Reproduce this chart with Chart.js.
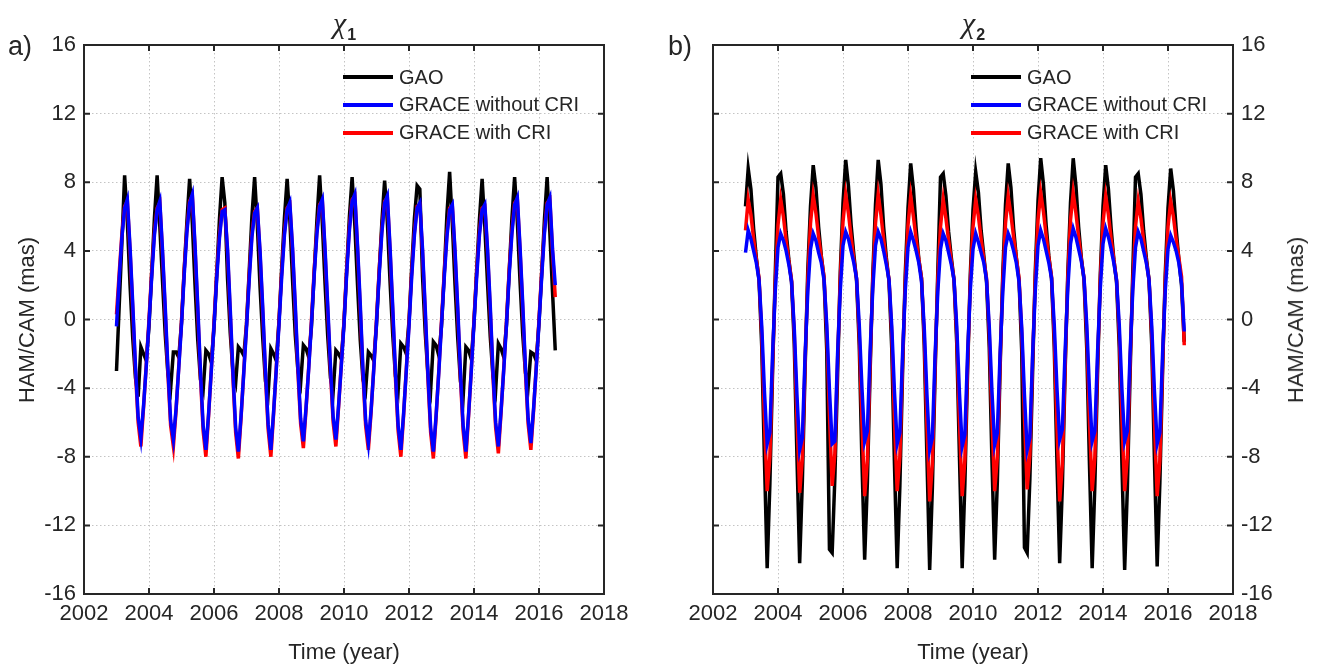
<!DOCTYPE html>
<html>
<head>
<meta charset="utf-8">
<script src="https://cdn.jsdelivr.net/npm/chart.js@4.4.1/dist/chart.umd.min.js"></script>
<style>
  body { margin: 0; width: 1320px; height: 668px; background: #fff; position: relative; overflow: hidden;
         font-family: "Liberation Sans", Arial, sans-serif; color: #262626; }
  canvas { position: absolute; top: 0; }
  .txt { position: absolute; white-space: nowrap; line-height: 1; }
  .panel { font-size: 27px; top: 33px; }
  .title { top: 8px; transform: translateX(-50%); }
  .title i { font-family: "Liberation Serif", "DejaVu Serif", serif; font-size: 30px; }
  .title b { font-size: 16px; position: relative; top: 7px; left: 1px; }
  .xlab { font-size: 22px; top: 641px; transform: translateX(-50%); }
  .ylab { font-size: 22px; transform: translate(-50%, -50%) rotate(-90deg); }
  .leg { position: absolute; height: 24px; display: flex; align-items: center; font-size: 20px; }
  .leg span { display: inline-block; width: 50px; height: 4px; margin-right: 6px; }
</style>
</head>
<body>
<canvas id="chi1" width="660" height="668" style="left:0"></canvas>
<canvas id="chi2" width="660" height="668" style="left:660px"></canvas>

<div class="txt panel" style="left:8px">a)</div>
<div class="txt panel" style="left:668px">b)</div>
<div class="txt title" style="left:344px"><i>χ</i><b>1</b></div>
<div class="txt title" style="left:973px"><i>χ</i><b>2</b></div>
<div class="txt xlab" style="left:344px">Time (year)</div>
<div class="txt xlab" style="left:973px">Time (year)</div>
<div class="txt ylab" style="left:27px; top:320px">HAM/CAM (mas)</div>
<div class="txt ylab" style="left:1296px; top:320px">HAM/CAM (mas)</div>
<div id="legends"></div>

<script>
// monthly series, Jan 2003 .. Jul 2016
var startYear = 2003;
var seriesNames = ['GAO', 'GRACE without CRI', 'GRACE with CRI'];
var seriesColors = ['#000000', '#0000ff', '#ff0000'];
var xTicks = [2002, 2004, 2006, 2008, 2010, 2012, 2014, 2016, 2018];
var yTicks = [-16, -12, -8, -4, 0, 4, 8, 12, 16];

// chi1
var gaoX1 = [
  -3.0, 0.8, 4.5, 8.4, 5.7, 2.0, -1.1, -3.4, -4.5, -1.6, -2.0, -2.4,
  -0.4, 2.7, 5.9, 8.4, 5.4, 2.2, -0.9, -3.2, -4.0, -1.9, -1.9, -2.2,
  -0.2, 2.9, 5.7, 8.2, 5.6, 2.0, -1.2, -3.5, -4.1, -1.8, -2.0, -2.5,
  -0.5, 2.6, 5.8, 8.3, 6.8, 2.4, -0.8, -3.1, -3.7, -1.6, -1.8, -2.1,
  -0.3, 2.8, 6.0, 8.3, 5.5, 1.9, -1.1, -3.6, -4.3, -1.7, -2.0, -2.4,
  -0.1, 3.0, 5.9, 8.2, 5.8, 2.3, -0.9, -3.0, -3.7, -1.5, -1.7, -2.2,
  -0.4, 2.7, 5.8, 8.4, 5.6, 2.1, -1.0, -3.4, -4.2, -1.8, -2.0, -2.3,
  -0.2, 2.9, 6.0, 8.3, 5.5, 2.0, -1.2, -3.5, -4.1, -1.9, -2.1, -2.4,
  -0.3, 2.8, 5.7, 8.1, 5.7, 2.2, -0.9, -3.3, -4.1, -1.4, -1.6, -2.0,
  -0.1, 3.0, 5.9, 7.8, 7.6, 2.5, -0.8, -3.2, -4.1, -1.3, -1.5, -2.1,
  -0.4, 2.6, 6.1, 8.6, 5.6, 2.0, -1.1, -3.6, -4.5, -1.6, -1.8, -2.3,
  -0.2, 2.9, 5.8, 8.2, 5.4, 2.1, -1.0, -3.3, -4.1, -1.4, -1.7, -2.2,
  -0.3, 2.8, 5.9, 8.3, 5.7, 2.2, -0.9, -3.1, -3.9, -1.9, -2.0, -2.4,
  -0.2, 2.7, 5.8, 8.3, 5.1, 1.6, -1.8
];
var noCriX1 = [
  -0.4, 2.4, 4.8, 6.5, 7.0, 4.2, 0.9, -2.7, -5.7, -6.9, -5.0, -2.7,
  -0.2, 2.5, 4.9, 6.4, 6.9, 4.0, 0.7, -2.9, -5.9, -7.0, -5.2, -2.8,
  -0.3, 2.6, 5.1, 6.8, 7.3, 4.3, 0.8, -3.0, -6.2, -7.6, -5.5, -3.0,
  -0.4, 2.4, 4.7, 6.3, 6.4, 4.1, 0.6, -3.1, -6.3, -7.7, -5.6, -3.1,
  -0.5, 2.3, 4.8, 6.2, 6.5, 4.0, 0.7, -3.0, -6.1, -7.6, -5.4, -2.9,
  -0.3, 2.5, 4.9, 6.4, 6.8, 4.2, 0.9, -2.8, -5.8, -7.1, -5.1, -2.8,
  -0.2, 2.6, 5.0, 6.6, 7.0, 4.1, 0.8, -2.7, -5.7, -7.0, -5.0, -2.7,
  -0.3, 2.7, 5.2, 6.9, 7.3, 4.3, 0.9, -2.9, -5.9, -7.2, -5.3, -2.9,
  -0.2, 2.6, 5.1, 6.8, 7.2, 4.2, 0.7, -3.1, -6.2, -7.6, -5.5, -3.0,
  -0.4, 2.5, 4.9, 6.5, 6.8, 4.1, 0.6, -3.2, -6.3, -7.7, -5.6, -3.1,
  -0.3, 2.4, 4.8, 6.4, 6.7, 4.0, 0.7, -3.1, -6.2, -7.7, -5.5, -3.0,
  -0.2, 2.5, 4.9, 6.4, 6.7, 4.1, 0.8, -3.0, -6.0, -7.4, -5.3, -2.9,
  -0.3, 2.6, 5.0, 6.7, 7.1, 4.2, 0.9, -2.8, -5.8, -7.2, -5.2, -2.8,
  -0.2, 2.5, 5.0, 6.7, 7.1, 4.1, 2.0
];
var criX1 = [
  0.3, 2.7, 5.0, 6.6, 6.9, 4.0, 0.6, -3.0, -6.0, -7.4, -5.1, -2.6,
  0.0, 2.8, 5.1, 6.5, 6.8, 3.8, 0.4, -3.2, -6.2, -7.4, -5.3, -2.7,
  -0.1, 2.9, 5.3, 6.9, 7.2, 4.1, 0.5, -3.3, -6.5, -8.0, -5.6, -2.9,
  -0.2, 2.7, 4.9, 6.4, 6.5, 3.9, 0.3, -3.4, -6.6, -8.1, -5.7, -3.0,
  -0.3, 2.6, 5.0, 6.3, 6.5, 3.8, 0.4, -3.3, -6.4, -8.0, -5.5, -2.8,
  -0.1, 2.8, 5.1, 6.5, 6.7, 4.0, 0.6, -3.1, -6.1, -7.5, -5.2, -2.7,
  0.0, 2.9, 5.2, 6.7, 6.9, 3.9, 0.5, -3.0, -6.0, -7.4, -5.1, -2.6,
  -0.1, 3.0, 5.4, 7.0, 7.2, 4.1, 0.6, -3.2, -6.2, -7.6, -5.4, -2.8,
  0.0, 2.9, 5.3, 6.9, 7.1, 4.0, 0.4, -3.4, -6.5, -8.0, -5.6, -2.9,
  -0.2, 2.8, 5.1, 6.6, 6.7, 3.9, 0.3, -3.5, -6.6, -8.1, -5.7, -3.0,
  -0.1, 2.7, 5.0, 6.5, 6.6, 3.8, 0.4, -3.4, -6.5, -8.1, -5.6, -2.9,
  0.0, 2.8, 5.1, 6.5, 6.6, 3.9, 0.5, -3.3, -6.3, -7.8, -5.4, -2.8,
  -0.1, 2.9, 5.2, 6.8, 7.0, 4.0, 0.6, -3.1, -6.1, -7.6, -5.3, -2.7,
  0.0, 2.8, 5.2, 6.8, 7.0, 3.9, 1.3
];

// chi2
var gaoX2 = [
  6.6, 8.8, 7.6, 5.3, 3.6, 2.3, -1.6, -8.2, -14.5, -9.6, -3.0, 2.7,
  8.3, 8.5, 7.3, 5.1, 3.5, 2.2, -1.4, -8.0, -14.2, -9.4, -2.9, 2.9,
  6.6, 9.0, 7.7, 5.4, 3.7, 2.4, -1.8, -13.4, -13.6, -9.2, -3.2, 2.8,
  6.8, 9.3, 7.8, 5.5, 3.8, 2.3, -1.5, -8.3, -14.0, -9.5, -3.1, 2.6,
  6.7, 9.3, 7.9, 5.4, 3.6, 2.2, -1.7, -8.4, -14.5, -9.7, -3.0, 2.7,
  6.5, 9.1, 7.6, 5.3, 3.5, 2.4, -1.5, -8.1, -14.6, -9.8, -3.2, 2.8,
  8.3, 8.5, 7.2, 5.1, 3.6, 2.3, -1.4, -8.0, -14.5, -9.6, -3.0, 2.6,
  6.4, 8.6, 7.4, 5.2, 3.7, 2.2, -1.6, -8.2, -14.0, -9.4, -2.9, 2.7,
  6.7, 9.1, 7.7, 5.3, 3.6, 2.3, -1.9, -13.3, -13.6, -9.3, -3.1, 2.8,
  6.9, 9.4, 7.9, 5.5, 3.7, 2.4, -1.6, -8.3, -14.2, -9.7, -3.1, 2.7,
  6.8, 9.4, 7.8, 5.4, 3.6, 2.3, -1.7, -8.4, -14.5, -9.6, -3.0, 2.6,
  6.6, 9.0, 7.6, 5.3, 3.5, 2.2, -1.6, -8.5, -14.6, -9.8, -3.2, 2.8,
  8.3, 8.5, 7.3, 5.2, 3.6, 2.3, -1.5, -8.2, -14.4, -9.5, -3.0, 2.7,
  6.5, 8.8, 7.5, 5.3, 3.5, 2.0, -1.3
];
var noCriX2 = [
  3.9, 5.2, 4.7, 4.0, 3.3, 2.3, -0.4, -4.2, -7.25, -6.6, -2.0, 1.7,
  4.2, 5.0, 4.6, 4.0, 3.2, 2.2, -0.5, -4.4, -7.6, -6.9, -2.1, 1.6,
  4.1, 5.0, 4.6, 3.9, 3.3, 2.3, -0.3, -4.1, -7.25, -7.1, -2.0, 1.7,
  4.3, 5.1, 4.7, 4.0, 3.3, 2.4, -0.3, -4.0, -7.1, -6.5, -1.9, 1.8,
  4.3, 5.1, 4.7, 4.0, 3.2, 2.3, -0.4, -4.2, -7.25, -6.6, -2.0, 1.7,
  4.2, 5.1, 4.6, 4.0, 3.3, 2.2, -0.5, -4.4, -7.6, -6.9, -2.1, 1.6,
  4.1, 5.0, 4.6, 3.9, 3.2, 2.3, -0.4, -4.3, -7.4, -6.7, -2.0, 1.7,
  4.1, 5.0, 4.5, 3.9, 3.3, 2.3, -0.4, -4.2, -7.3, -6.6, -2.0, 1.6,
  4.2, 5.0, 4.6, 4.0, 3.3, 2.2, -0.5, -4.4, -7.6, -6.9, -2.1, 1.7,
  4.3, 5.2, 4.7, 4.0, 3.3, 2.4, -0.3, -4.0, -7.0, -6.4, -1.9, 1.8,
  4.4, 5.3, 4.8, 4.1, 3.4, 2.4, -0.3, -4.1, -7.1, -6.5, -1.9, 1.8,
  4.4, 5.3, 4.8, 4.1, 3.3, 2.3, -0.3, -4.1, -7.1, -6.5, -2.0, 1.7,
  4.2, 5.1, 4.7, 4.0, 3.3, 2.3, -0.4, -4.2, -7.25, -6.6, -2.0, 1.7,
  4.1, 4.9, 4.5, 4.0, 3.3, 2.1, -0.7
];
var criX2 = [
  5.2, 7.0, 6.1, 4.7, 3.5, 2.4, -0.9, -5.9, -10.0, -8.0, -2.6, 2.2,
  5.5, 7.0, 6.0, 4.6, 3.4, 2.3, -0.8, -5.8, -10.1, -8.1, -2.5, 2.3,
  5.6, 7.25, 6.2, 4.8, 3.6, 2.5, -0.7, -5.6, -9.7, -7.8, -2.4, 2.4,
  5.7, 7.3, 6.2, 4.8, 3.5, 2.4, -0.9, -6.0, -10.3, -8.2, -2.6, 2.3,
  5.6, 7.3, 6.1, 4.7, 3.4, 2.3, -0.8, -5.9, -10.0, -8.0, -2.5, 2.2,
  5.5, 7.2, 6.0, 4.7, 3.5, 2.4, -1.0, -6.2, -10.6, -8.4, -2.7, 2.3,
  5.4, 7.0, 5.9, 4.6, 3.4, 2.3, -0.9, -6.0, -10.3, -8.2, -2.6, 2.2,
  5.4, 7.0, 6.0, 4.7, 3.5, 2.4, -0.8, -5.8, -10.0, -8.0, -2.5, 2.3,
  5.6, 7.2, 6.1, 4.8, 3.6, 2.4, -0.8, -5.7, -9.9, -7.9, -2.4, 2.4,
  5.8, 7.4, 6.3, 4.9, 3.6, 2.5, -1.0, -6.2, -10.6, -8.4, -2.7, 2.4,
  5.8, 7.4, 6.2, 4.8, 3.5, 2.4, -0.8, -5.9, -10.0, -8.0, -2.5, 2.3,
  5.6, 7.2, 6.1, 4.7, 3.5, 2.3, -0.8, -5.8, -10.0, -8.0, -2.5, 2.2,
  5.4, 6.9, 5.9, 4.6, 3.4, 2.3, -0.9, -6.0, -10.3, -8.2, -2.6, 2.3,
  5.4, 6.9, 6.0, 4.7, 3.6, 2.5, -1.5
];

function toPoints(vals) {
  return vals.map(function (v, i) { return { x: startYear + i / 12, y: v }; });
}

// box with inward ticks, like the matlab axes
var boxPlugin = {
  id: 'box',
  afterDatasetsDraw: function (chart) {
    var ctx = chart.ctx, a = chart.chartArea;
    var xs = chart.scales.x, ys = chart.scales.y;
    ctx.save();
    ctx.strokeStyle = '#262626';
    ctx.lineWidth = 2;
    ctx.strokeRect(a.left, a.top, a.right - a.left, a.bottom - a.top);
    ctx.beginPath();
    xTicks.forEach(function (t) {
      var px = xs.getPixelForValue(t);
      ctx.moveTo(px, a.bottom); ctx.lineTo(px, a.bottom - 6);
      ctx.moveTo(px, a.top); ctx.lineTo(px, a.top + 6);
    });
    yTicks.forEach(function (t) {
      var py = ys.getPixelForValue(t);
      ctx.moveTo(a.left, py); ctx.lineTo(a.left + 6, py);
      ctx.moveTo(a.right, py); ctx.lineTo(a.right - 6, py);
    });
    ctx.stroke();
    ctx.restore();
  }
};

function makePanel(id, gao, noCri, cri, yPos, padding, yWidth) {
  var tickFont = { family: '"Liberation Sans", Arial, sans-serif', size: 22 };
  var grid = { color: '#c4c4c4', lineWidth: 1, drawTicks: false };
  var border = { display: false, dash: [1.5, 2.5] };
  var sets = [gao, noCri, cri].map(function (vals, k) {
    return {
      label: seriesNames[k],
      data: toPoints(vals),
      borderColor: seriesColors[k],
      borderWidth: 3.5,
      pointRadius: 0,
      tension: 0,
      order: [3, 1, 2][k]  // black at the bottom, blue on top
    };
  });
  return new Chart(document.getElementById(id), {
    type: 'line',
    data: { datasets: sets },
    options: {
      responsive: false,
      animation: false,
      events: [],
      layout: { padding: padding },
      plugins: { legend: { display: false }, tooltip: { enabled: false } },
      scales: {
        x: {
          type: 'linear', min: 2002, max: 2018,
          afterBuildTicks: function (s) { s.ticks = xTicks.map(function (v) { return { value: v }; }); },
          ticks: { font: tickFont, color: '#262626', padding: 7, maxRotation: 0,
                   callback: function (v) { return String(v); } },
          grid: grid, border: border,
          afterFit: function (s) { s.height = 74; }
        },
        y: {
          position: yPos, min: -16, max: 16,
          afterBuildTicks: function (s) { s.ticks = yTicks.map(function (v) { return { value: v }; }); },
          ticks: { font: tickFont, color: '#262626', padding: 8,
                   callback: function (v) { return String(v); } },
          grid: grid, border: border,
          afterFit: function (s) { s.width = yWidth; }
        }
      }
    },
    plugins: [boxPlugin]
  });
}

makePanel('chi1', gaoX1, noCriX1, criX1, 'left', { top: 45, right: 56, left: 0, bottom: 0 }, 84);
makePanel('chi2', gaoX2, noCriX2, criX2, 'right', { top: 45, right: 0, left: 53, bottom: 0 }, 87);

// legends inside the plots
var legendSpots = [[343, 77], [971, 77]];
var html = '';
legendSpots.forEach(function (p) {
  seriesNames.forEach(function (name, k) {
    html += '<div class="leg" style="left:' + p[0] + 'px; top:' + (p[1] + k * 27.8 - 12) + 'px">' +
      '<span style="background:' + seriesColors[k] + '"></span>' + name + '</div>';
  });
});
document.getElementById('legends').innerHTML = html;
</script>
</body>
</html>
